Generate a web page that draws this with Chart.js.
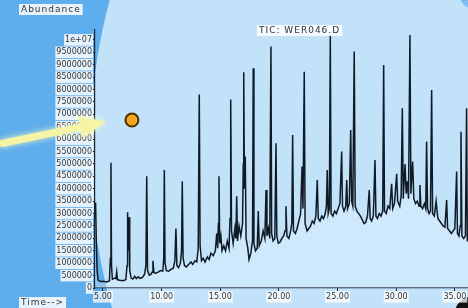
<!DOCTYPE html>
<html>
<head>
<meta charset="utf-8">
<script src="https://cdn.jsdelivr.net/npm/chart.js@4"></script>
<style>
  html, body { margin: 0; padding: 0; background: #5eadec; }
  canvas { display: block; }
</style>
</head>
<body>
<canvas id="tic" width="468" height="308"></canvas>
<script>
const retentionTime = [
  4.32, 4.37, 4.43, 4.50, 4.58, 4.75, 5.00, 5.30, 5.55, 5.63, 5.68, 5.73, 5.80, 6.00, 6.10, 6.17, 6.24, 6.45, 6.70, 6.95,
  7.05, 7.10, 7.16, 7.22, 7.28, 7.40, 7.55, 7.70, 7.85, 8.00, 8.15, 8.35, 8.55, 8.66, 8.73, 8.80, 8.95, 9.10, 9.20, 9.26,
  9.34, 9.50, 9.70, 9.90, 10.10, 10.18, 10.23, 10.29, 10.40, 10.60, 10.80, 11.00, 11.13, 11.22, 11.30, 11.45, 11.60, 11.70, 11.76, 11.83,
  11.95, 12.10, 12.30, 12.50, 12.65, 12.85, 13.00, 13.12, 13.21, 13.28, 13.40, 13.55, 13.70, 13.90, 14.05, 14.20, 14.40, 14.58, 14.70, 14.78,
  14.84, 14.89, 14.95, 15.05, 15.15, 15.30, 15.45, 15.60, 15.75, 15.83, 15.89, 15.96, 16.10, 16.25, 16.33, 16.40, 16.47, 16.60, 16.75, 16.90,
  16.96, 17.00, 17.06, 17.13, 17.20, 17.35, 17.45, 17.60, 17.75, 17.81, 17.87, 18.00, 18.15, 18.24, 18.32, 18.50, 18.65, 18.80, 18.90, 18.98,
  19.10, 19.22, 19.32, 19.38, 19.50, 19.65, 19.75, 19.82, 19.95, 20.10, 20.25, 20.40, 20.52, 20.60, 20.68, 20.85, 21.00, 21.10, 21.17, 21.24,
  21.40, 21.55, 21.70, 21.85, 21.97, 22.05, 22.16, 22.23, 22.40, 22.55, 22.70, 22.85, 23.00, 23.15, 23.27, 23.35, 23.50, 23.65, 23.80, 23.95,
  24.05, 24.12, 24.20, 24.30, 24.38, 24.45, 24.60, 24.75, 24.90, 25.05, 25.20, 25.35, 25.42, 25.55, 25.70, 25.78, 25.85, 26.00, 26.12, 26.20,
  26.30, 26.42, 26.50, 26.65, 26.80, 26.95, 27.10, 27.25, 27.40, 27.55, 27.70, 27.78, 27.90, 28.05, 28.19, 28.27, 28.40, 28.55, 28.70, 28.85,
  28.93, 29.00, 29.15, 29.30, 29.45, 29.61, 29.70, 29.85, 30.04, 30.12, 30.30, 30.42, 30.52, 30.60, 30.75, 30.85, 30.95, 31.05, 31.17, 31.25,
  31.40, 31.50, 31.65, 31.80, 31.95, 32.02, 32.10, 32.25, 32.40, 32.52, 32.59, 32.67, 32.80, 32.92, 33.02, 33.10, 33.25, 33.40, 33.55, 33.70,
  33.85, 34.00, 34.15, 34.30, 34.38, 34.55, 34.70, 34.85, 35.00, 35.15, 35.22, 35.35, 35.45, 35.52, 35.60, 35.75, 35.90, 36.00, 36.06, 36.12
];
const abundanceK = [
  2900, 3450, 1900, 700, 320, 260, 270, 240, 280, 1200, 5050, 900, 350, 400, 380, 650, 330, 310, 290, 330,
  900, 3050, 1500, 2850, 700, 400, 360, 470, 380, 450, 390, 420, 560, 900, 4500, 700, 520, 560, 650, 1100,
  620, 600, 640, 700, 680, 1200, 4760, 1000, 700, 680, 750, 800, 1100, 2400, 900, 820, 1000, 1500, 4300, 1200,
  900, 850, 950, 1050, 950, 1100, 1050, 1600, 7800, 1700, 1100, 1200, 1050, 1250, 1150, 1400, 1300, 1500, 2200, 1600,
  2600, 4500, 1800, 2100, 1500, 1700, 1500, 1900, 1600, 2800, 7600, 2300, 1800, 2400, 2000, 3700, 1900, 2500, 2100, 2600,
  5000, 8700, 4000, 5300, 2000, 1600, 1150, 1400, 1900, 8860, 1800, 1500, 1600, 3100, 1700, 1900, 2300, 2000, 3950, 2100,
  2400, 2000, 9730, 2200, 1900, 2000, 5830, 2100, 1800, 1850, 2000, 2100, 2300, 3300, 2100, 2000, 2300, 2600, 6170, 2300,
  2200, 2400, 2700, 3000, 4900, 3200, 8720, 2600, 2300, 2400, 2500, 2700, 2600, 2900, 4350, 2800, 2700, 2900, 2800, 3000,
  3300, 4760, 3000, 3200, 10200, 3000, 2900, 3100, 3000, 3200, 3400, 5500, 3300, 3100, 3300, 4350, 3200, 3400, 6370, 3500,
  3300, 9530, 3300, 3100, 3000, 2900, 2750, 2600, 2650, 2900, 3950, 2800, 2700, 2900, 5160, 2900, 2800, 3000, 2900, 3100,
  8990, 3100, 3000, 3300, 3200, 4200, 3200, 3400, 4600, 3500, 3300, 3700, 7250, 3600, 5000, 3800, 4300, 3600, 10200, 3800,
  5100, 3600, 3400, 3500, 3300, 4150, 3300, 3200, 3400, 3200, 5900, 3200, 3000, 3100, 7980, 3000, 2900, 3500, 2800, 2700,
  2600, 2500, 2450, 3550, 2400, 2300, 2200, 2300, 2400, 4700, 2200, 2100, 2500, 6300, 2100, 2000, 2100, 7250, 1900, 1900
];

const xTicks = [5, 10, 15, 20, 25, 30, 35];
const yTicks = [
  0, 500000, 1000000, 1500000, 2000000, 2500000, 3000000, 3500000, 4000000, 4500000, 5000000,
  5500000, 6000000, 6500000, 7000000, 7500000, 8000000, 8500000, 9000000, 9500000, 10000000
];

const titleText = "TIC: WER046.D";
const yAxisText = "Abundance";
const xAxisText = "Time-->";

// marker and arrow on the slide, placed in data units
const marker = { x: 7.47, y: 6770000 };
const arrowTip = { x: 5.25, y: 6700000 };

const backdrop = {
  id: "backdrop",
  beforeDraw(chart) {
    const ctx = chart.ctx;
    const w = chart.width, h = chart.height;
    ctx.save();
    ctx.fillStyle = "#5eadec";
    ctx.fillRect(0, 0, w, h);
    ctx.fillStyle = "#c2e2fa";
    ctx.beginPath();
    ctx.ellipse(334, 150, 244, 380, 0, 0, Math.PI * 2);
    ctx.fill();
    // darker corners on the right
    ctx.fillStyle = "#7cbcf0";
    ctx.beginPath();
    ctx.arc(w + 4, -4, 12, 0, Math.PI * 2);
    ctx.fill();
    ctx.fillStyle = "#111";
    ctx.beginPath();
    ctx.arc(w + 6, h + 8, 20, 0, Math.PI * 2);
    ctx.fill();
    ctx.restore();
  }
};

function boxedText(ctx, text, x, y) {
  ctx.font = "9px 'DejaVu Sans'";
  ctx.letterSpacing = "1px";
  const tw = ctx.measureText(text).width;
  ctx.fillStyle = "rgba(255,255,255,0.85)";
  ctx.fillRect(x - 2, y - 6, tw + 4, 11);
  ctx.fillStyle = "#333";
  ctx.textBaseline = "middle";
  ctx.textAlign = "left";
  ctx.fillText(text, x, y);
}

const overlay = {
  id: "overlay",
  afterDraw(chart) {
    const ctx = chart.ctx;
    const xs = chart.scales.x, ys = chart.scales.y;
    ctx.save();
    boxedText(ctx, yAxisText, 21, 10);
    boxedText(ctx, titleText, 259, 31);
    boxedText(ctx, xAxisText, 21, 303);

    // yellow arrow from the left edge
    const tx = xs.getPixelForValue(arrowTip.x), ty = ys.getPixelForValue(arrowTip.y);
    const sx = 0, sy = ty + 22;
    const ang = Math.atan2(ty - sy, tx - sx);
    const bx = tx - 26 * Math.cos(ang), by = ty - 26 * Math.sin(ang);
    ctx.shadowColor = "rgba(255,255,200,0.9)";
    ctx.shadowBlur = 6;
    ctx.strokeStyle = "#f6f5a6";
    ctx.lineWidth = 7;
    ctx.beginPath();
    ctx.moveTo(sx, sy);
    ctx.lineTo(bx, by);
    ctx.stroke();
    ctx.fillStyle = "#f6f5a6";
    ctx.beginPath();
    ctx.moveTo(tx, ty);
    ctx.lineTo(bx + 11 * Math.sin(ang), by - 11 * Math.cos(ang));
    ctx.lineTo(bx - 11 * Math.sin(ang), by + 11 * Math.cos(ang));
    ctx.closePath();
    ctx.fill();
    ctx.shadowBlur = 0;

    // orange marker
    const mx = xs.getPixelForValue(marker.x), my = ys.getPixelForValue(marker.y);
    ctx.fillStyle = "#f3a51e";
    ctx.strokeStyle = "#4a3300";
    ctx.lineWidth = 2;
    ctx.beginPath();
    ctx.arc(mx, my, 6.5, 0, Math.PI * 2);
    ctx.fill();
    ctx.stroke();
    ctx.restore();
  }
};

new Chart(document.getElementById("tic"), {
  type: "line",
  data: {
    datasets: [{
      data: retentionTime.map((t, i) => ({ x: t, y: abundanceK[i] * 1000 })),
      borderColor: "#0f1a24",
      borderWidth: 1.5,
      pointRadius: 0,
      tension: 0,
      fill: "origin",
      backgroundColor: "rgba(228,243,255,0.35)"
    }]
  },
  options: {
    responsive: false,
    animation: false,
    layout: { padding: { top: 30, left: 0, right: 0, bottom: 0 } },
    plugins: { legend: { display: false }, tooltip: { enabled: false } },
    scales: {
      x: {
        type: "linear",
        min: 4.32,
        max: 36.12,
        afterBuildTicks: s => { s.ticks = xTicks.map(v => ({ value: v })); },
        afterFit: s => { s.height = 20; s.paddingLeft = 0; s.paddingRight = 0; },
        grid: { drawOnChartArea: false, tickLength: 3, color: "#1a2430" },
        border: { color: "#1a2430", width: 1.2 },
        ticks: {
          color: "#333",
          font: { size: 8, family: "DejaVu Sans" },
          padding: 1,
          maxRotation: 0,
          autoSkip: false,
          showLabelBackdrop: true,
          backdropColor: "rgba(255,255,255,0.75)",
          backdropPadding: 1,
          callback: v => v.toFixed(2)
        }
      },
      y: {
        min: 0,
        max: 10400000,
        afterBuildTicks: s => { s.ticks = yTicks.map(v => ({ value: v })); },
        afterFit: s => { s.width = 95; s.paddingTop = 0; s.paddingBottom = 0; },
        grid: { drawOnChartArea: false, tickLength: 3, color: "#1a2430" },
        border: { color: "#1a2430", width: 1.2 },
        ticks: {
          color: "#333",
          font: { size: 8, family: "DejaVu Sans" },
          padding: 0,
          autoSkip: false,
          showLabelBackdrop: true,
          backdropColor: "rgba(255,255,255,0.85)",
          backdropPadding: 1,
          callback: v => v === 10000000 ? "1e+07" : String(v)
        }
      }
    }
  },
  plugins: [backdrop, overlay]
});
</script>
</body>
</html>
